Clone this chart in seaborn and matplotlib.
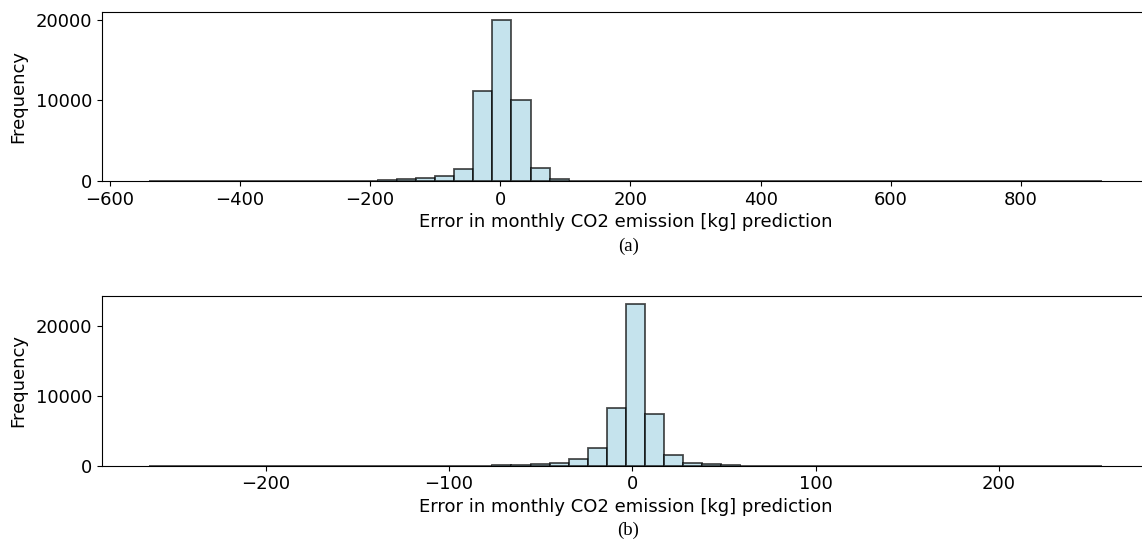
import numpy as np
import pandas as pd
import matplotlib
matplotlib.use("Agg")
import matplotlib.pyplot as plt
import seaborn as sns

# ---- data ----
# panel (a): 50 equal bins between these limits
a_lo, a_hi = -539.0, 925.0
a_counts = [12, 3, 5, 8, 4, 6, 3, 7, 10, 14, 22, 38,
            70, 200, 330, 650, 1440, 11100, 19900, 10080, 1640, 250,
            60, 25, 12, 8, 6, 10, 4, 3, 5, 2, 6, 9, 3, 2, 4, 1,
            2, 3, 1, 0, 2, 1, 3, 0, 1, 2, 0, 6]

# panel (b): 50 equal bins between these limits
b_lo, b_hi = -263.5, 256.5
b_counts = [10, 4, 3, 2, 1, 6, 2, 1, 3, 5, 4, 8, 6, 5, 7, 8, 10, 15, 30, 60,
            250, 400, 920, 2500, 8200, 23150, 7450, 1550, 450, 200,
            50, 25, 15, 10, 8, 6, 5, 4, 6, 3, 5, 4, 3, 2, 1, 2, 1, 6, 2, 8]

x_label = "Error in monthly CO2 emission [kg] prediction"
y_label = "Frequency"
captions = ["(a)", "(b)"]

panels = [(a_lo, a_hi, a_counts), (b_lo, b_hi, b_counts)]

W, H = 1142, 544
fig = plt.figure(figsize=(W / 100, H / 100), dpi=100)

ax_rects = [
    [101.7 / W, 1 - 181 / H, (1150 - 101.7) / W, (181 - 12.3) / H],
    [101.7 / W, 1 - 465.7 / H, (1150 - 101.7) / W, (465.7 - 296) / H],
]
caption_y = [1 - 246 / H, 1 - 530 / H]

fs = 13
for (lo, hi, counts), rect, cap, cy in zip(panels, ax_rects, captions, caption_y):
    n = len(counts)
    width = (hi - lo) / n
    centers = lo + width * (np.arange(n) + 0.5)
    df = pd.DataFrame({"err": centers, "cnt": np.asarray(counts, dtype=float)})
    ax = fig.add_axes(rect)
    sns.histplot(data=df, x="err", weights="cnt", bins=n, binrange=(lo, hi), ax=ax,
                 color="lightblue", edgecolor=(0, 0, 0, 0.7), alpha=0.7,
                 linewidth=1.3)
    for p in ax.patches:
        p.set_edgecolor((0, 0, 0, 0.7))
    ax.set_xlabel(x_label, fontsize=fs, labelpad=3)
    ax.set_ylabel(y_label, fontsize=fs, labelpad=6)
    ax.tick_params(labelsize=fs)
    ax.set_yticks([0, 10000, 20000])
    fig.text(0.55, cy, cap, ha="center", va="center",
             family="Liberation Serif", fontsize=13.5)

fig.savefig("out.png", dpi=100)
